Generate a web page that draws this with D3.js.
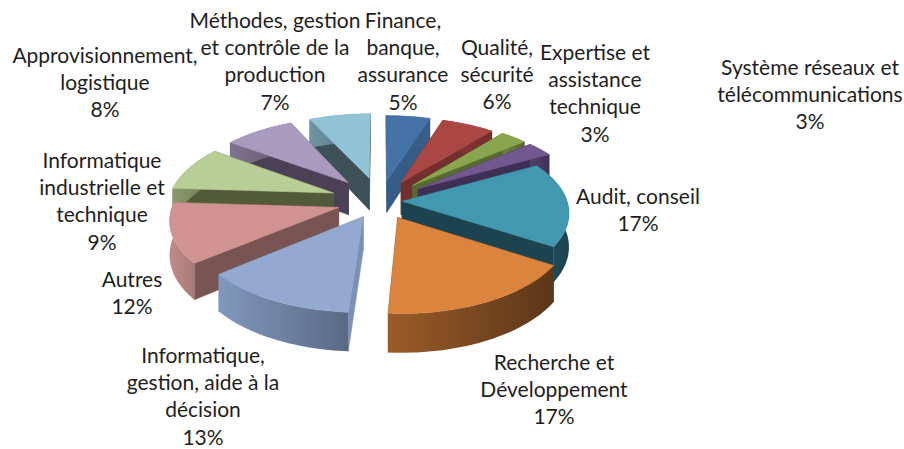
<!DOCTYPE html>
<html lang="fr"><head><meta charset="utf-8">
<script src="https://cdnjs.cloudflare.com/ajax/libs/d3/7.8.5/d3.min.js"></script>
<style>html,body{margin:0;padding:0;background:#fff}svg{display:block}text{font-family:Lato,"Open Sans",sans-serif;font-size:21px;fill:#1e1e1e}</style>
</head><body><svg id="c" width="904" height="449"></svg>
<script>
const categories=[["Finance,","banque,","assurance"],["Qualité,","sécurité"],["Expertise et","assistance","technique"],["Système réseaux et","télécommunications"],["Audit, conseil"],["Recherche et","Développement"],["Informatique,","gestion, aide à la","décision"],["Autres"],["Informatique","industrielle et","technique"],["Approvisionnement,","logistique"],["Méthodes, gestion","et contrôle de la","production"]];
const values=[5,6,3,3,17,17,13,12,9,8,7];
const topColors=["#4572a7","#aa4643","#89a54e","#71588f","#4198af","#db843d","#93a9cf","#d19392","#b9cd96","#a99bbd","#92c3d4"];
const cutColors=["#365c88","#722f2d","#566a31","#3f2f55","#1d4250","#5f3a1a","#7a91b5","#7a5452","#525a3a","#4a4156","#3e5058"];
const wallLeft=["#3e6794","#8a3a38","#6b803c","#54406d","#24505f","#9a5c28","#8098bc","#c08b88","#8a9a6e","#7f7490","#6e94a2"];
const wallRight=["#365c88","#722f2d","#566a31","#3f2f55","#1d4250","#5c3618","#5a6a85","#a87a76","#6b7a50","#5f566e","#4f6f7a"];
const explode=[45,45,47,47,22,38,36,43,50,51,51];
const labelAnchors=[[403,28],[497,55],[595,60],[810,75],[638,204],[554,370],[203,363],[132,287],[102,168],[105,63],[275,28]];

const cx=380,cy=201,R=165,H=33,S=0.476,D=1250,LINE=27.2;
const svg=d3.select("#c");
const defs=svg.append("defs");
const project=(X,Y,Z)=>{const w=1+Y/D;return [cx+X/w,cy-(Y*S+Z)/w];};
const arcs=d3.pie().sort(null).value(d=>d)(values);
const line=d3.line();
const order=arcs.map((a,i)=>({a,i,mid:(a.startAngle+a.endAngle)/2,depth:0}));
order.forEach(o=>{o.ox=explode[o.i]*Math.sin(o.mid);o.oy=explode[o.i]*Math.cos(o.mid);
  o.depth=o.oy+R*0.6*Math.cos(o.mid);});
order.sort((p,q)=>q.depth-p.depth);
const g=svg.append("g");
order.forEach(o=>{
  const {a,i}=o;
  const P=(ang,r,z)=>project(o.ox+r*Math.sin(ang),o.oy+r*Math.cos(ang),z);
  const n=Math.max(4,Math.ceil((a.endAngle-a.startAngle)/0.03));
  const rim=d3.range(n+1).map(k=>a.startAngle+(a.endAngle-a.startAngle)*k/n);
  const s=g.append("g");
  [a.startAngle,a.endAngle].forEach(ang=>{
    s.append("path").attr("d",line([P(ang,0,0),P(ang,R,0),P(ang,R,-H),P(ang,0,-H)])+"Z")
     .attr("fill",cutColors[i]).attr("stroke",cutColors[i]).attr("stroke-width",.5);
  });
  const tops=rim.map(t=>P(t,R,0));
  const bots=rim.map(t=>P(t,R,-H)).reverse();
  const xs=tops.map(p=>p[0]);
  const gid="w"+i;
  const gr=defs.append("linearGradient").attr("id",gid).attr("gradientUnits","userSpaceOnUse")
    .attr("x1",d3.min(xs)).attr("x2",d3.max(xs)).attr("y1",0).attr("y2",0);
  gr.append("stop").attr("offset",0).attr("stop-color",wallLeft[i]);
  gr.append("stop").attr("offset",1).attr("stop-color",wallRight[i]);
  s.append("path").attr("d",line(tops.concat(bots))+"Z").attr("fill",`url(#${gid})`);
  s.append("path").attr("d",line([P(0,0,0)].concat(tops))+"Z")
   .attr("fill",topColors[i]).attr("stroke",topColors[i]).attr("stroke-width",.5);
});
const total=d3.sum(values);
const fmt=v=>Math.round(v/total*100)+"%";
categories.forEach((lines,i)=>{
  const t=svg.append("text").attr("text-anchor","middle");
  lines.concat([fmt(values[i])]).forEach((l,k)=>{
    t.append("tspan").attr("x",labelAnchors[i][0]).attr("y",labelAnchors[i][1]+k*LINE).text(l);
  });
});
</script></body></html>
